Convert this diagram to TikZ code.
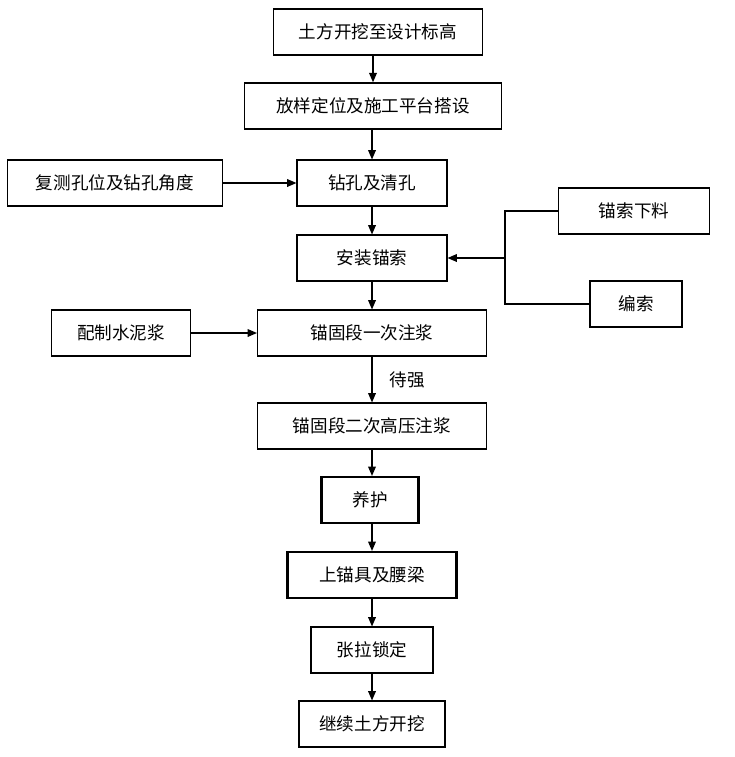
\documentclass[tikz,border=0pt]{standalone}
\usepackage{fontspec}
\setmainfont{Noto Sans CJK SC}
\usetikzlibrary{arrows.meta,positioning,calc}
\tikzset{
  >={Triangle[length=2.8mm,width=2.3mm]},
  box/.style={draw=black,line width=0.9pt,minimum height=1.38cm,align=center,
    font=\fontsize{15pt}{18pt}\selectfont,inner sep=0pt},
  heavy/.style={box,line width=1.8pt},
  flow/.style={->,line width=1.1pt,draw=black},
  link/.style={line width=1.1pt,draw=black},
  tag/.style={font=\fontsize{15pt}{18pt}\selectfont},
}
\begin{document}
\begin{tikzpicture}[x=0.03cm,y=-0.03cm]
  \useasboundingbox (0,0) rectangle (735,757);
  % main line
  \node[box,line width=1.2pt,minimum width=6.27cm] (dig) at (378,32) {土方开挖至设计标高};
  \node[box,line width=1.2pt,minimum width=7.71cm] (setout) at (373,106) {放样定位及施工平台搭设};
  \node[box,minimum width=4.5cm] (drill) at (372,183) {钻孔及清孔};
  \node[box,minimum width=4.5cm] (install) at (372,258) {安装锚索};
  \node[box,minimum width=6.87cm] (grout1) at (372,333) {锚固段一次注浆};
  \node[box,minimum width=6.87cm] (grout2) at (372,426) {锚固段二次高压注浆};
  \node[heavy,minimum width=2.91cm] (cure) at (370,500) {养护};
  \node[heavy,minimum width=5.07cm] (beam) at (372,575) {上锚具及腰梁};
  \node[box,minimum width=3.66cm] (lock) at (372,650) {张拉锁定};
  \node[box,minimum width=4.38cm] (next) at (372,724) {继续土方开挖};
  % side boxes
  \node[box,minimum width=6.45cm] (check) at (115,183) {复测孔位及钻孔角度};
  \node[box,minimum width=4.17cm] (mix) at (121,333) {配制水泥浆};
  \node[box,minimum width=4.53cm] (cut) at (634,211) {锚索下料};
  \node[box,minimum width=2.76cm] (braid) at (636,304) {编索};
  \coordinate (jn) at (505,258);

  \draw[flow] (dig.south -| setout.north) -- (setout.north);
  \draw[flow] (setout.south -| drill.north) -- (drill.north);
  \draw[flow] (drill) -- (install);
  \draw[flow] (install) -- (grout1);
  \draw[flow] (grout1) -- node[tag,right=4mm]{待强} (grout2);
  \draw[flow] (grout2.south -| beam.north) -- (cure.north -| beam.north);
  \draw[flow] (cure.south -| beam.north) -- (beam.north);
  \draw[flow] (beam) -- (lock);
  \draw[flow] (lock) -- (next);
  \draw[flow] (check) -- (drill);
  \draw[flow] (mix) -- (grout1);
  \draw[link] (cut.west) -| (jn) |- (braid.west);
  \draw[flow] (jn) -- (install.east);
\end{tikzpicture}
\end{document}
